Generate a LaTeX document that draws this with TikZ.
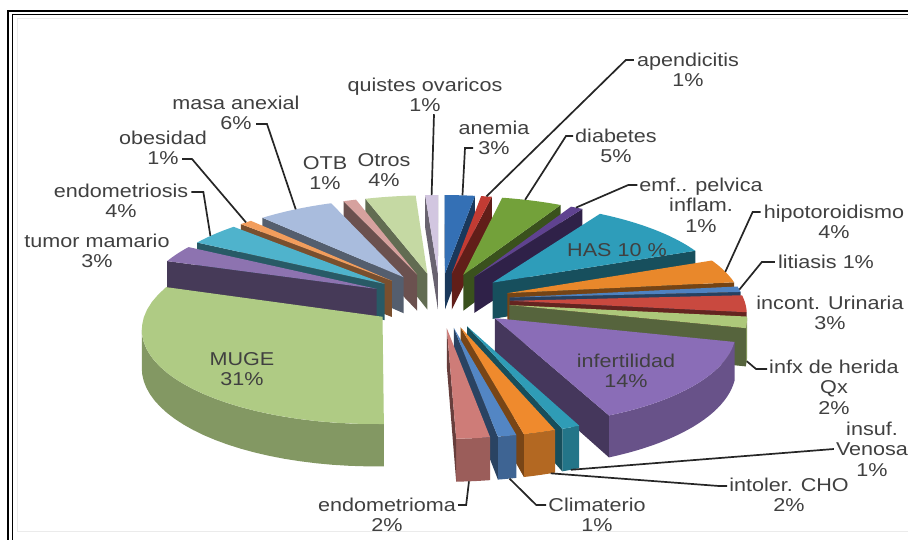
\documentclass[tikz,border=0pt]{standalone}
\usepackage{fontspec}
\setmainfont{Liberation Sans}[FakeStretch=1.16]

\definecolor{cQuis}{HTML}{D2C6E0}
\definecolor{cAnem}{HTML}{3470B5}
\definecolor{cApen}{HTML}{C23B33}
\definecolor{cDiab}{HTML}{73A13A}
\definecolor{cEmf}{HTML}{5F4290}
\definecolor{cHAS}{HTML}{2E9DBA}
\definecolor{cHipo}{HTML}{E9882B}
\definecolor{cLiti}{HTML}{4E82C1}
\definecolor{cInco}{HTML}{C9493F}
\definecolor{cInfx}{HTML}{ADC87A}
\definecolor{cInfe}{HTML}{8A6DB7}
\definecolor{cInsu}{HTML}{2F9CB6}
\definecolor{cInto}{HTML}{EF8A2D}
\definecolor{cClim}{HTML}{5386C4}
\definecolor{cEndm}{HTML}{CE7C78}
\definecolor{cMUGE}{HTML}{AFCB84}
\definecolor{cTumo}{HTML}{8D73B0}
\definecolor{cEndo}{HTML}{4FB3CC}
\definecolor{cObes}{HTML}{F29D5C}
\definecolor{cMasa}{HTML}{A9BCDD}
\definecolor{cOTB}{HTML}{D6A19E}
\definecolor{cOtro}{HTML}{C5D9A3}

\tikzset{
	declare function={
		ps(\sq)=1/(1+0.107*(\sq));
		hx(\su,\sq)=440+234*(\su)*ps(\sq);
		hy(\su,\sq)=300-92*(\sq)*ps(\sq);
		ax(\st)=hx(\slU+sin(\st),\slW+cos(\st));
		ay(\st)=hy(\slU+sin(\st),\slW+cos(\st));
		by(\st)=ay(\st)+37*ps(\slW+cos(\st));
	},
	leader/.style={draw=black!85,line width=1.7pt},
	lbl/.style={align=center,inner sep=0pt,text=black!75},
}

% exploded 3d slice: start angle, end angle (clockwise from 12 o'clock), colour
\newcommand\slice[3]{%
	\pgfmathsetmacro\slA{#1}%
	\pgfmathsetmacro\slB{#2}%
	\pgfmathsetmacro\slM{(\slA+\slB)/2}%
	\pgfmathsetmacro\slU{0.3*sin(\slM)}%
	\pgfmathsetmacro\slW{0.3*cos(\slM)}%
	\pgfmathsetmacro\slK{veclen(9.35+\slW,\slU)}%
	\pgfmathsetmacro\slF{atan2(\slU,9.35+\slW)}%
	\pgfmathsetmacro\visA{max(\slA,\slF+acos(-1/\slK))}%
	\pgfmathsetmacro\visB{min(\slB,\slF+360-acos(-1/\slK))}%
	\ifdim\visA pt<\visB pt
		\fill[#3!75!black] plot[domain=\visA:\visB,samples=24] ({ax(\x)},{ay(\x)})
			-- plot[domain=\visB:\visA,samples=24] ({ax(\x)},{by(\x)}) -- cycle;
	\fi
	\pgfmathsetmacro\wallS{\slU*cos(\slA)-(9.35+\slW)*sin(\slA)}%
	\ifdim\wallS pt>0pt
		\fill[#3!50!black] ({hx(\slU,\slW)},{hy(\slU,\slW)}) -- ({ax(\slA)},{ay(\slA)})
			-- ({ax(\slA)},{by(\slA)}) -- ({hx(\slU,\slW)},{hy(\slU,\slW)+37*ps(\slW)}) -- cycle;
	\fi
	\pgfmathsetmacro\wallE{(9.35+\slW)*sin(\slB)-\slU*cos(\slB)}%
	\ifdim\wallE pt>0pt
		\fill[#3!50!black] ({hx(\slU,\slW)},{hy(\slU,\slW)}) -- ({ax(\slB)},{ay(\slB)})
			-- ({ax(\slB)},{by(\slB)}) -- ({hx(\slU,\slW)},{hy(\slU,\slW)+37*ps(\slW)}) -- cycle;
	\fi
	\fill[#3] ({hx(\slU,\slW)},{hy(\slU,\slW)}) -- plot[domain=\slA:\slB,samples=24] ({ax(\x)},{ay(\x)}) -- cycle;
}

\begin{document}
\begin{tikzpicture}[x=1pt,y=-1pt,font=\fontsize{18.6}{20.5}\selectfont]

	\useasboundingbox (0,0) rectangle (908,539);
	\fill[white] (0,0) rectangle (908,539);

	% frame
	\draw[black!8] (17,18) rectangle (930,531);
	\draw[line width=2pt] (8,560) |- (930,11);
	\draw[line width=1.2pt] (12.5,560) |- (930,14.5);

	% slices, back to front
	\slice{356.4}{360}{cQuis}
	\coordinate (a-quis) at ({ax(358.2)},{ay(358.2)});
	\slice{0}{8.5}{cAnem}
	\coordinate (a-anem) at ({ax(5)},{ay(5)});
	\slice{8.5}{11.5}{cApen}
	\coordinate (a-apen) at ({ax(10)},{ay(10)});
	\slice{342.2}{356.4}{cOtro}
	\slice{338.6}{342.2}{cOTB}
	\slice{11.5}{28.5}{cDiab}
	\coordinate (a-diab) at ({ax(18)},{ay(18)});
	\slice{28.5}{32}{cEmf}
	\coordinate (a-emf) at ({ax(30)},{ay(30)});
	\slice{317.2}{338.6}{cMasa}
	\coordinate (a-masa) at ({ax(328)},{ay(328)});
	\slice{313.7}{317.2}{cObes}
	\coordinate (a-obes) at ({ax(315.5)},{ay(315.5)});
	\slice{32}{68}{cHAS}
	\slice{299.4}{313.7}{cEndo}
	\coordinate (a-endo) at ({ax(305)},{ay(305)});
	\slice{288.7}{299.4}{cTumo}
	\slice{68}{83}{cHipo}
	\coordinate (a-hipo) at ({ax(76)},{ay(76)});
	\slice{83}{86.5}{cLiti}
	\coordinate (a-liti) at ({ax(85)},{ay(85)});
	\slice{86.5}{97}{cInco}
	\slice{97}{104}{cInfx}
	\coordinate (a-infx) at ({ax(101)},{by(101)});
	\slice{178.2}{288.7}{cMUGE}
	\slice{104}{156}{cInfe}
	\slice{156}{160}{cInsu}
	\coordinate (a-insu) at ({ax(158)},{by(158)});
	\slice{160}{167}{cInto}
	\coordinate (a-into) at ({ax(161)},{by(161)});
	\slice{167}{171}{cClim}
	\coordinate (a-clim) at ({ax(168.5)},{by(168.5)});
	\slice{171}{178.2}{cEndm}
	\coordinate (a-endm) at ({ax(175.5)},{by(175.5)});

	% labels
	\node[lbl] (quis) at (425,95) {quistes ovaricos\\1\%};
	\node[lbl] (apen) at (688,70) {apendicitis\\1\%};
	\node[lbl] (anem) at (494,138) {anemia\\3\%};
	\node[lbl] (diab) at (616,146) {diabetes\\5\%};
	\node[lbl] (emf) at (701,205) {emf.. pelvica\\inflam.\\1\%};
	\node[lbl] (has) at (617,250) {HAS 10 \%};
	\node[lbl] (hipo) at (834,222) {hipotoroidismo\\4\%};
	\node[lbl] (liti) at (826,262) {litiasis 1\%};
	\node[lbl] (inco) at (830,313) {incont. Urinaria\\3\%};
	\node[lbl] (infx) at (834,387) {infx de herida\\Qx\\2\%};
	\node[lbl] (infe) at (626,371) {infertilidad\\14\%};
	\node[lbl] (insu) at (872,449) {insuf.\\Venosa\\1\%};
	\node[lbl] (into) at (789,495) {intoler. CHO\\2\%};
	\node[lbl] (clim) at (597,515) {Climaterio\\1\%};
	\node[lbl] (endm) at (387,515) {endometrioma\\2\%};
	\node[lbl] (muge) at (242,369) {MUGE\\31\%};
	\node[lbl] (tumo) at (97,251) {tumor mamario\\3\%};
	\node[lbl] (endo) at (121,201) {endometriosis\\4\%};
	\node[lbl] (obes) at (163,148) {obesidad\\1\%};
	\node[lbl] (masa) at (236,113) {masa anexial\\6\%};
	\node[lbl] (otb) at (325,173) {OTB\\1\%};
	\node[lbl] (otro) at (384,170) {Otros\\4\%};

	% leader lines
	\draw[leader] ([xshift=9,yshift=-2]quis.south) -- (a-quis);
	\draw[leader] ([xshift=-3,yshift=10]apen.west) -- ++(-8,0) -- (a-apen);
	\draw[leader] ([xshift=-21,yshift=-10]anem.center) -- ++(-8,0) -- (a-anem);
	\draw[leader] ([xshift=-2,yshift=10]diab.west) -- ++(-7,0) -- (a-diab);
	\draw[leader] ([xshift=-2,yshift=20]emf.west) -- ++(-9,0) -- (a-emf);
	\draw[leader] ([xshift=-3,yshift=10]hipo.west) -- ++(-8,0) -- (a-hipo);
	\draw[leader] ([xshift=-3]liti.west) -- ++(-13,0) -- (a-liti);
	\draw[leader] ([xshift=-2,yshift=18]infx.west) -- ++(-11,0) -- (a-infx);
	\draw[leader] ([xshift=-2]insu.west) -- (a-insu);
	\draw[leader] ([xshift=-2,yshift=9]into.west) -- ++(-8,0) -- (a-into);
	\draw[leader] ([xshift=-2,yshift=10]clim.west) -- ++(-10,0) -- (a-clim);
	\draw[leader] ([xshift=2,yshift=10]endm.east) -- ++(8,0) -- (a-endm);
	\draw[leader] ([xshift=3,yshift=9]endo.east) -- ++(12,0) -- (a-endo);
	\draw[leader] ([xshift=19,yshift=-11]obes.center) -- ++(10,0) -- (a-obes);
	\draw[leader] ([xshift=20,yshift=-11]masa.center) -- ++(11,0) -- (a-masa);

\end{tikzpicture}
\end{document}
